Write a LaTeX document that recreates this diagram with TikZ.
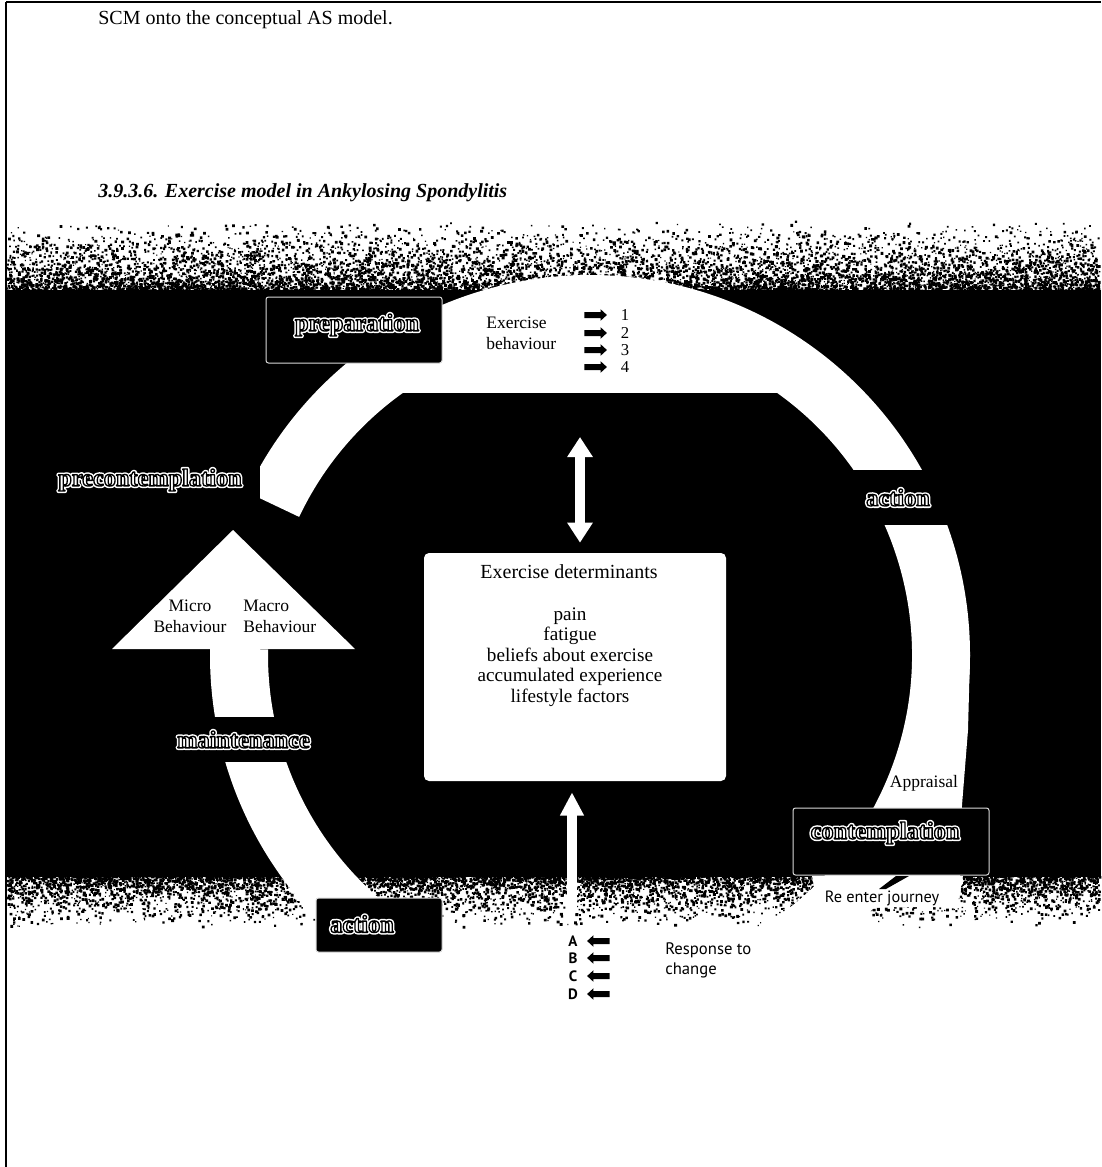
\documentclass[tikz,border=0pt]{standalone}
\usepackage{fontspec}
\setmainfont{Liberation Serif}
\newfontfamily\gillish{PT Sans}
\usetikzlibrary{arrows.meta,shapes.arrows}

% outlined lettering: white rim (stroked copy), then white body with a thin black edge
\newcommand\outlined[1]{%
  \rlap{\textcolor{white}{\special{pdf:literal direct 1 Tr 2.6 w 1 J 1 j}#1\special{pdf:literal direct 0 Tr}}}%
  \textcolor{white}{\special{pdf:literal direct 2 Tr 0.8 w 1 j 0 G}#1\special{pdf:literal direct 0 Tr}}}
\newcommand\haloed[1]{%
  \rlap{\textcolor{white}{\special{pdf:literal direct 1 Tr 1.8 w 1 j}#1\special{pdf:literal direct 0 Tr}}}%
  #1}

% speckles: #1 how many, #2 formula for the vertical position
\newcount\graini
\newcount\grainj
\newcommand\speckle[2]{%
  \graini=0 \grainj=0
  \loop
    \pgfmathsetmacro\gx{6+1093*rnd}%
    \pgfmathsetmacro\gy{#2}%
    \pgfmathsetmacro\gs{1.1+1.8*rnd}%
    \pgfpathrectangle{\pgfpointxy{\gx}{\gy}}{\pgfpointxy{\gs}{\gs}}%
    \advance\graini by 1 \advance\grainj by 1
    \ifnum\grainj=40 \pgfusepath{fill}\grainj=0 \fi
  \ifnum\graini<#1 \repeat
  \ifnum\grainj>0 \pgfusepath{fill}\fi}

\tikzset{
  stagefont/.style={font=\fontsize{14.6}{16}\selectfont\bfseries},
  stagecover/.style={fill=black, inner sep=0pt, stagefont},
  stagebox/.style={fill=black, draw=white!85!black, line width=0.6pt, rounded corners=1.5pt},
  whitearrow/.style={draw=white, line width=6.3pt},
  tinyright/.style={single arrow, fill=black, inner xsep=0pt, inner ysep=1.6pt,
    minimum height=13.5pt, single arrow head extend=1.7pt, single arrow tip angle=85,
    shape border rotate=0},
  tinyleft/.style={tinyright, shape border rotate=180},
  bodytext/.style={font=\fontsize{12}{14}\selectfont},
  smalltext/.style={font=\fontsize{10.5}{12.6}\selectfont},
  sanstext/.style={font=\gillish\fontsize{10}{12}\selectfont},
}

\begin{document}
\begin{tikzpicture}[x=0.6pt, y=-0.6pt, every node/.append style={inner sep=0pt}]
\useasboundingbox (0,0) rectangle (1101,1167);
\fill[white] (0,0) rectangle (1101,1167);

% page frame
\draw[line width=1.2pt] (6,2) -- (1101,2);
\draw[line width=1.2pt] (6,2) -- (6,1167);

% running text
\node[bodytext, anchor=west] (intro) at (98,20) {SCM onto the conceptual AS model.};
\node[font=\fontsize{12}{14}\selectfont\bfseries\itshape, anchor=west] (heading) at (98,193)
  {3.9.3.6. Exercise model in Ankylosing Spondylitis};

% speckled edges and the dark panel
\begin{scope}
\pgfsetfillcolor{black}
\pgfmathsetseed{4711}
\speckle{9500}{292-72*rnd*rnd}
\speckle{7000}{875+52*rnd*rnd}
\end{scope}
\fill[black] (6,290) rectangle (1101,877);

% the cycle ring, with its broad top
\coordinate (hub) at (590,655);
\fill[white] (hub) ++(-179:380) arc[start angle=-179, end angle=-514.6, radius=380]
  -- ++(-514.6:-58) arc[start angle=-514.6, end angle=-179, radius=322] -- cycle;
\fill[white] (hub) ++(-131.5:350) arc[start angle=-131.5, end angle=-48.5, radius=350] -- cycle;
% widening of the ring towards contemplation
\fill[white] (955,655) -- (970,655) -- (968,730) -- (962,805) -- (960,877) -- (880,877) -- (930,740) -- cycle;
\fill[white] (812,876) -- (963,876) -- (957,907) -- (818,907) -- cycle;

% stage labels sitting in breaks of the ring
\node[stagecover, minimum width=132pt, minimum height=30pt] (precont) at (150,480) {\outlined{precontemplation}};
\node[stagecover, minimum width=94.2pt, minimum height=27pt] (maint) at (243.5,739.5) {\outlined{maintenance}};
\node[stagecover, minimum width=84pt, minimum height=33pt] (actR) at (898,497.5) {\outlined{action}};

% arrow head of the ring
\fill[white] (112,649) -- (233,530) -- (355,649) -- cycle;
\node[smalltext, align=center] (micro) at (190,616) {Micro\\Behaviour};
\node[smalltext, align=left, anchor=west] (macro) at (243,616) {Macro\\Behaviour};

% boxed stages
\node[stagebox, minimum width=105.6pt, minimum height=39.6pt] (prepbox) at (354,330) {};
\node[stagefont] (prep) at (357,325) {\outlined{preparation}};
\node[stagebox, minimum width=117.6pt, minimum height=40.2pt] (contbox) at (891,841.5) {};
\node[stagefont] (cont) at (885,833) {\outlined{contemplation}};
\node[stagebox, minimum width=75.6pt, minimum height=32.4pt] (actbox) at (379,925) {};
\node[stagefont] (actB) at (362,924) {\outlined{action}};
\fill[black] (896,876) -- (909,876) -- (886,889) -- (879,889) -- cycle;

% exercise behaviour key
\node[smalltext, align=left, anchor=west] (behav) at (486,333) {Exercise\\behaviour};
\foreach \n/\yy in {1/315,2/333,3/350,4/367}{
  \node[tinyright] (r\n) at (594,\yy) {};
  \node[font=\fontsize{10}{12}\selectfont] (num\n) at (625,\yy) {\n};
}

% determinants
\node[fill=white, rounded corners=3pt, minimum width=181.2pt, minimum height=136.8pt] (det) at (575,667) {};
\node[bodytext] (dettitle) at (569,572) {Exercise determinants};
\node[font=\fontsize{11.5}{12.3}\selectfont, align=center] (detlist) at (570,657)
  {pain\\fatigue\\beliefs about exercise\\accumulated experience\\lifestyle factors};

% arrows into and out of the determinants
\coordinate (captip) at (580,437);
\draw[whitearrow, {Triangle[width=14.6pt,length=12pt]}-{Triangle[width=14.6pt,length=12pt]}, shorten >=6pt]
  (captip) -- (captip |- det.north);
\coordinate (feed) at (572,913);
\draw[whitearrow, line width=5.8pt, -{Triangle[width=13.5pt,length=14pt]}, shorten >=6.6pt]
  (feed) -- (feed |- det.south);

% appraisal / re-entry
\node[smalltext] (appr) at (924,783) {\haloed{Appraisal}};
\node[font=\gillish\fontsize{9.8}{12}\selectfont] (reenter) at (882,898) {Re enter journey};

% response to change key
\foreach \l/\yy in {A/941,B/958,C/976,D/994}{
  \node[font=\gillish\bfseries\fontsize{9}{10}\selectfont] (let\l) at (573,\yy) {\l};
  \node[tinyleft] (l\l) at (600,\yy) {};
}
\node[sanstext, align=left, anchor=west] (resp) at (665,960) {Response to\\change};
\end{tikzpicture}
\end{document}
